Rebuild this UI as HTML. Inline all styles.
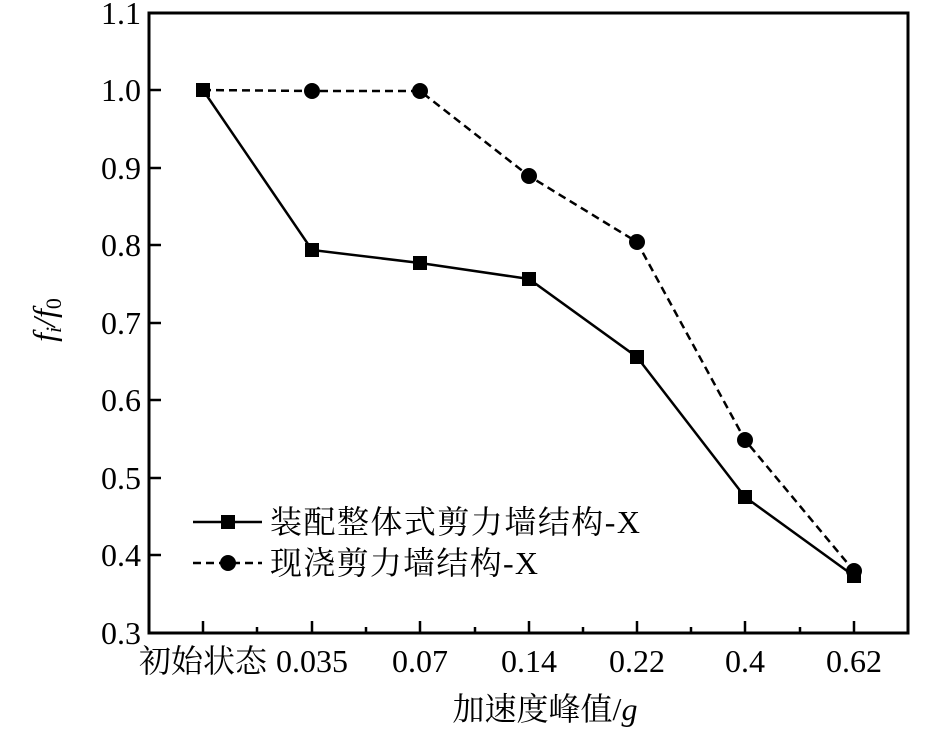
<!DOCTYPE html><html><head><meta charset="utf-8"><style>body{margin:0;background:#fff}</style></head><body>
<svg width="940" height="744" xmlns="http://www.w3.org/2000/svg" font-family="'Liberation Serif','Noto Serif CJK SC',serif" font-size="32">
<rect x="149" y="13" width="759" height="620" fill="none" stroke="#000" stroke-width="3"/>
<g stroke="#000" stroke-width="2.5">
<line x1="149" y1="90" x2="161" y2="90"/><line x1="149" y1="168" x2="161" y2="168"/><line x1="149" y1="245" x2="161" y2="245"/><line x1="149" y1="323" x2="161" y2="323"/><line x1="149" y1="400" x2="161" y2="400"/><line x1="149" y1="478" x2="161" y2="478"/><line x1="149" y1="555" x2="161" y2="555"/>
<line x1="203" y1="633" x2="203" y2="621"/><line x1="312" y1="633" x2="312" y2="621"/><line x1="420" y1="633" x2="420" y2="621"/><line x1="529" y1="633" x2="529" y2="621"/><line x1="637" y1="633" x2="637" y2="621"/><line x1="745" y1="633" x2="745" y2="621"/><line x1="854" y1="633" x2="854" y2="621"/>
<line x1="257" y1="633" x2="257" y2="627"/><line x1="366" y1="633" x2="366" y2="627"/><line x1="475" y1="633" x2="475" y2="627"/><line x1="583" y1="633" x2="583" y2="627"/><line x1="691" y1="633" x2="691" y2="627"/><line x1="800" y1="633" x2="800" y2="627"/>
</g>
<g text-anchor="end">
<text x="141" y="24">1.1</text><text x="141" y="101">1.0</text><text x="141" y="179">0.9</text><text x="141" y="256">0.8</text><text x="141" y="334">0.7</text><text x="141" y="411">0.6</text><text x="141" y="489">0.5</text><text x="141" y="566">0.4</text><text x="141" y="644">0.3</text>
</g>
<g text-anchor="middle">
<text x="203" y="672">初始状态</text><text x="312" y="672">0.035</text><text x="420" y="672">0.07</text><text x="529" y="672">0.14</text><text x="637" y="672">0.22</text><text x="745" y="672">0.4</text><text x="854" y="672">0.62</text>
<text x="545" y="720">加速度峰值/<tspan font-style="italic">g</tspan></text>
</g>
<text transform="translate(55,320) rotate(-90)" text-anchor="middle" font-style="italic">f<tspan font-size="22" dy="6">i</tspan><tspan dy="-6">/f</tspan><tspan font-size="22" dy="6" font-style="normal">0</tspan></text>
<polyline fill="none" stroke="#000" stroke-width="2.5" points="203,90 312,250 420,263 529,279 637,357 745,497 854,576"/>
<polyline fill="none" stroke="#000" stroke-width="2.5" stroke-dasharray="8,5" points="203,90 312,91 420,91 529,176 637,242 745,440 854,571"/>
<g fill="#000">
<rect x="196" y="83" width="14" height="14"/><rect x="305" y="243" width="14" height="14"/><rect x="413" y="256" width="14" height="14"/><rect x="522" y="272" width="14" height="14"/><rect x="630" y="350" width="14" height="14"/><rect x="738" y="490" width="14" height="14"/><rect x="847" y="569" width="14" height="14"/>
<circle cx="312" cy="91" r="8"/><circle cx="420" cy="91" r="8"/><circle cx="529" cy="176" r="8"/><circle cx="637" cy="242" r="8"/><circle cx="745" cy="440" r="8"/><circle cx="854" cy="571" r="8"/>
</g>
<line x1="193" y1="522" x2="262" y2="522" stroke="#000" stroke-width="2.5"/>
<rect x="221" y="515" width="14" height="14"/>
<line x1="193" y1="563" x2="262" y2="563" stroke="#000" stroke-width="2.5" stroke-dasharray="8,5"/>
<circle cx="228" cy="563" r="8"/>
<text x="270" y="533" textLength="370">装配整体式剪力墙结构-X</text>
<text x="270" y="574" textLength="268">现浇剪力墙结构-X</text>
</svg>
</body></html>
